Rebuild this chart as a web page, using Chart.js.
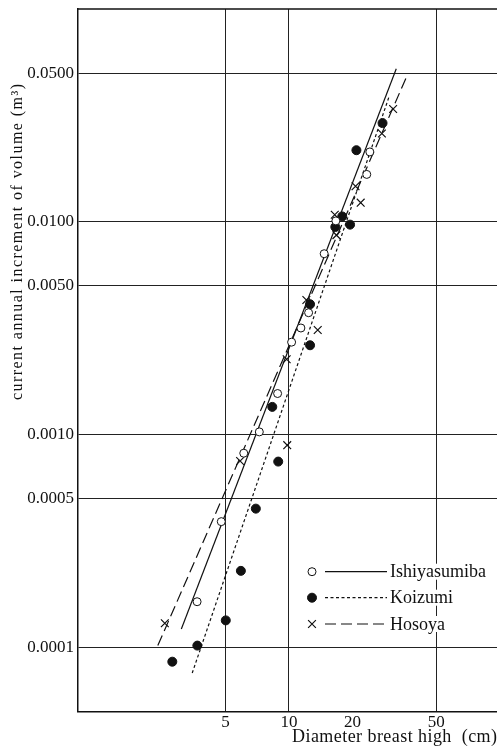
<!DOCTYPE html>
<html>
<head>
<meta charset="utf-8">
<script src="https://cdn.jsdelivr.net/npm/chart.js@4.4.1/dist/chart.umd.min.js"></script>
<style>
  html, body { margin: 0; padding: 0; background: #fff; }
  #wrap { width: 497px; height: 752px; }
</style>
</head>
<body>
<div id="wrap"><canvas id="dbhChart" width="497" height="752"></canvas></div>
<script>
// values: dbh in cm, annual volume increment in m3
const seriesNames = ['Ishiyasumiba', 'Koizumi', 'Hosoya'];

const ishiDbh = [3.67, 4.78, 6.11, 7.24, 8.84, 10.3, 11.4, 12.4, 14.7, 16.7, 23.4, 24.2];
const ishiVol = [0.000164, 0.00039, 0.000818, 0.00103, 0.00156, 0.00272, 0.00317, 0.00374, 0.00708, 0.0101, 0.0167, 0.0213];

const koiDbh = [2.80, 3.68, 5.02, 5.92, 6.97, 8.90, 8.34, 12.6, 12.6, 16.6, 17.9, 19.5, 20.9, 27.8];
const koiVol = [0.0000857, 0.000102, 0.000134, 0.000229, 0.000449, 0.000747, 0.00135, 0.00263, 0.0041, 0.00946, 0.0106, 0.0097, 0.0217, 0.0291];

const hosDbh = [2.58, 5.87, 9.82, 9.76, 12.1, 13.7, 16.5, 16.8, 20.7, 21.9, 27.6, 31.2];
const hosVol = [0.00013, 0.000752, 0.000892, 0.00226, 0.00429, 0.0031, 0.0108, 0.00866, 0.0147, 0.0123, 0.026, 0.0339];

// fitted lines (end points)
const ishiLineDbh = [3.09, 32.3];
const ishiLineVol = [0.000122, 0.0524];
const koiLineDbh = [3.48, 29.9];
const koiLineVol = [0.0000758, 0.0389];
const hosLineDbh = [2.39, 35.9];
const hosLineVol = [0.000102, 0.0473];

const xTicks = [5, 10, 20, 50];
const yTicks = [0.0001, 0.0005, 0.001, 0.005, 0.01, 0.05];

const xTitle = 'Diameter breast high  (cm)';
const yTitle = 'current annual increment of volume (m\u00B3)';

const ink = '#111';
const serif = "'Liberation Serif', 'DejaVu Serif', serif";
Chart.defaults.font.family = serif;
Chart.defaults.color = ink;

const toPts = (xs, ys) => xs.map((x, i) => ({ x: x, y: ys[i] }));

const pointSets = [
  { pts: toPts(ishiDbh, ishiVol), style: 'circle', r: 4, fill: '#fff' },
  { pts: toPts(koiDbh, koiVol), style: 'circle', r: 4.5, fill: ink },
  { pts: toPts(hosDbh, hosVol), style: 'crossRot', r: 5.5, fill: ink }
];
const fitSets = [
  { pts: toPts(ishiLineDbh, ishiLineVol), dash: [] },
  { pts: toPts(koiLineDbh, koiLineVol), dash: [3, 2.5] },
  { pts: toPts(hosLineDbh, hosLineVol), dash: [11, 5] }
];

const datasets = [];
pointSets.forEach((s, i) => {
  datasets.push({
    label: seriesNames[i],
    data: s.pts,
    showLine: false,
    pointStyle: s.style,
    pointRadius: s.r,
    pointBackgroundColor: s.fill,
    pointBorderColor: ink,
    pointBorderWidth: s.style === 'crossRot' ? 1.2 : 1,
    order: 0
  });
});
fitSets.forEach((s, i) => {
  datasets.push({
    label: seriesNames[i] + ' fit',
    data: s.pts,
    showLine: true,
    pointRadius: 0,
    borderColor: ink,
    borderWidth: 1.2,
    borderDash: s.dash,
    fill: false,
    order: 1
  });
});

// draw char by char so the text covers the same length as in the figure
function spacedText(ctx, text, x, y, target) {
  const chars = Array.from(text);
  const widths = chars.map(c => ctx.measureText(c).width);
  const natural = widths.reduce((a, b) => a + b, 0);
  const sp = (target - natural) / (chars.length - 1);
  let cx = x;
  chars.forEach((c, i) => {
    ctx.fillText(c, cx, y);
    cx += widths[i] + sp;
  });
}

const paperText = {
  id: 'paperText',
  afterDraw(chart) {
    const { ctx, chartArea } = chart;
    ctx.save();

    // top frame line
    ctx.strokeStyle = ink;
    ctx.lineWidth = 1.5;
    ctx.beginPath();
    ctx.moveTo(chartArea.left, chartArea.top);
    ctx.lineTo(chartArea.right, chartArea.top);
    ctx.stroke();

    ctx.fillStyle = ink;
    ctx.textAlign = 'left';
    ctx.textBaseline = 'middle';

    // axis titles
    ctx.font = '18px ' + serif;
    spacedText(ctx, xTitle, 292, 737, 205);

    ctx.save();
    ctx.translate(18, 400);
    ctx.rotate(-Math.PI / 2);
    ctx.font = '16px ' + serif;
    spacedText(ctx, yTitle, 0, 0, 316);
    ctx.restore();

    // legend: marker, line sample, name
    const rows = [571.7, 597.7, 624];
    ctx.font = '18px ' + serif;
    rows.forEach((y, i) => {
      const p = pointSets[i];
      ctx.fillStyle = p.fill;
      ctx.strokeStyle = ink;
      ctx.lineWidth = p.style === 'crossRot' ? 1.2 : 1;
      ctx.setLineDash([]);
      Chart.helpers.drawPoint(ctx, { pointStyle: p.style, radius: p.r, rotation: 0, borderWidth: ctx.lineWidth }, 312, y);

      ctx.lineWidth = 1.2;
      ctx.setLineDash(fitSets[i].dash);
      ctx.beginPath();
      ctx.moveTo(325, y);
      ctx.lineTo(387, y);
      ctx.stroke();
      ctx.setLineDash([]);

      const w = ctx.measureText(seriesNames[i]).width;
      ctx.fillStyle = '#fff';
      ctx.fillRect(389, y - 8, w + 2, 16);
      ctx.fillStyle = ink;
      ctx.fillText(seriesNames[i], 390, y + 1);
    });
    ctx.restore();
  }
};

new Chart(document.getElementById('dbhChart'), {
  type: 'scatter',
  data: { datasets: datasets },
  options: {
    responsive: false,
    animation: false,
    events: [],
    layout: { autoPadding: false, padding: { left: 0, right: 0, top: 9, bottom: 0 } },
    plugins: {
      legend: { display: false },
      tooltip: { enabled: false }
    },
    scales: {
      x: {
        type: 'logarithmic',
        position: 'bottom',
        min: 1,
        max: 97,
        afterBuildTicks: (ax) => { ax.ticks = xTicks.map(v => ({ value: v })); },
        afterFit: (ax) => {
          ax.height = 40.5;
          ax.paddingLeft = 0;
          ax.paddingRight = 0;
        },
        ticks: {
          callback: (v) => String(v),
          autoSkip: false,
          maxRotation: 0,
          padding: 1,
          color: ink,
          font: { size: 17 }
        },
        grid: {
          color: (c) => (c.tick && c.tick.value === 20) ? 'rgba(0,0,0,0)' : '#222',
          lineWidth: 1,
          drawTicks: false
        },
        border: { color: ink, width: 1.5 }
      },
      y: {
        type: 'logarithmic',
        position: 'left',
        min: 0.00005,
        max: 0.1,
        afterBuildTicks: (ax) => { ax.ticks = yTicks.map(v => ({ value: v })); },
        afterFit: (ax) => {
          ax.width = 78;
          ax.paddingTop = 0;
          ax.paddingBottom = 0;
        },
        ticks: {
          callback: (v) => Number(v).toFixed(4),
          autoSkip: false,
          padding: 4,
          color: ink,
          font: { size: 17 }
        },
        grid: { color: '#222', lineWidth: 1, drawTicks: false },
        border: { color: ink, width: 1.5 }
      }
    }
  },
  plugins: [paperText]
});
</script>
</body>
</html>
